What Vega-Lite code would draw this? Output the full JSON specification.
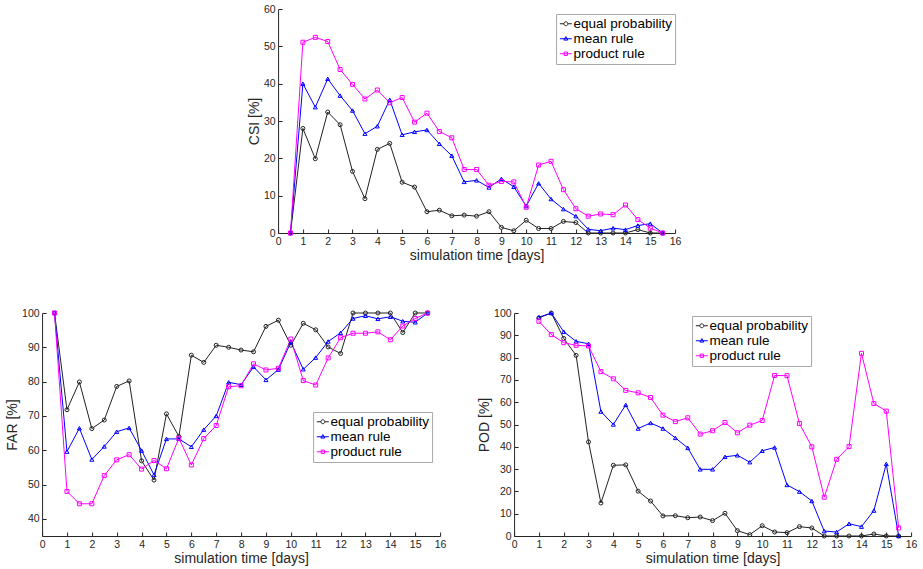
{
  "$schema": "https://vega.github.io/schema/vega-lite/v6.json",
  "padding": {"left": 5, "top": 4, "right": 5, "bottom": 5},
  "background": "white",
  "datasets": {
    "csi": [
      {"t": 0.5, "equal probability": 0, "mean rule": 0, "product rule": 0},
      {"t": 1, "equal probability": 28.0, "mean rule": 40.0, "product rule": 51.1},
      {"t": 1.5, "equal probability": 19.9, "mean rule": 33.7, "product rule": 52.4},
      {"t": 2, "equal probability": 32.4, "mean rule": 41.3, "product rule": 51.3},
      {"t": 2.5, "equal probability": 29.0, "mean rule": 36.8, "product rule": 43.8},
      {"t": 3, "equal probability": 16.5, "mean rule": 32.8, "product rule": 39.8},
      {"t": 3.5, "equal probability": 9.2, "mean rule": 26.6, "product rule": 35.9},
      {"t": 4, "equal probability": 22.4, "mean rule": 28.6, "product rule": 38.3},
      {"t": 4.5, "equal probability": 24.0, "mean rule": 35.7, "product rule": 34.9},
      {"t": 5, "equal probability": 13.6, "mean rule": 26.3, "product rule": 36.3},
      {"t": 5.5, "equal probability": 12.3, "mean rule": 27.1, "product rule": 29.7},
      {"t": 6, "equal probability": 5.7, "mean rule": 27.6, "product rule": 32.1},
      {"t": 6.5, "equal probability": 6.1, "mean rule": 23.9, "product rule": 27.2},
      {"t": 7, "equal probability": 4.6, "mean rule": 20.7, "product rule": 25.5},
      {"t": 7.5, "equal probability": 4.8, "mean rule": 13.7, "product rule": 17.0},
      {"t": 8, "equal probability": 4.5, "mean rule": 14.1, "product rule": 17.0},
      {"t": 8.5, "equal probability": 5.7, "mean rule": 12.2, "product rule": 12.8},
      {"t": 9, "equal probability": 1.5, "mean rule": 14.5, "product rule": 13.8},
      {"t": 9.5, "equal probability": 0.6, "mean rule": 12.4, "product rule": 13.7},
      {"t": 10, "equal probability": 3.4, "mean rule": 7.2, "product rule": 6.9},
      {"t": 10.5, "equal probability": 1.2, "mean rule": 13.3, "product rule": 18.2},
      {"t": 11, "equal probability": 1.2, "mean rule": 9.1, "product rule": 19.2},
      {"t": 11.5, "equal probability": 3.1, "mean rule": 6.4, "product rule": 11.6},
      {"t": 12, "equal probability": 2.8, "mean rule": 4.5, "product rule": 6.5},
      {"t": 12.5, "equal probability": 0, "mean rule": 1.0, "product rule": 4.5},
      {"t": 13, "equal probability": 0, "mean rule": 0.6, "product rule": 5.1},
      {"t": 13.5, "equal probability": 0, "mean rule": 1.3, "product rule": 4.9},
      {"t": 14, "equal probability": 0, "mean rule": 0.9, "product rule": 7.5},
      {"t": 14.5, "equal probability": 0.9, "mean rule": 2.0, "product rule": 3.6},
      {"t": 15, "equal probability": 0, "mean rule": 2.5, "product rule": 1.3},
      {"t": 15.5, "equal probability": 0, "mean rule": 0, "product rule": 0}
    ],
    "far": [
      {"t": 0.5, "equal probability": 100, "mean rule": 100, "product rule": 100},
      {"t": 1, "equal probability": 71.8, "mean rule": 59.6, "product rule": 48.0},
      {"t": 1.5, "equal probability": 79.9, "mean rule": 66.4, "product rule": 44.4},
      {"t": 2, "equal probability": 66.3, "mean rule": 57.3, "product rule": 44.4},
      {"t": 2.5, "equal probability": 68.8, "mean rule": 61.1, "product rule": 52.6},
      {"t": 3, "equal probability": 78.6, "mean rule": 65.4, "product rule": 57.2},
      {"t": 3.5, "equal probability": 80.2, "mean rule": 66.5, "product rule": 58.7},
      {"t": 4, "equal probability": 56.9, "mean rule": 59.9, "product rule": 54.5},
      {"t": 4.5, "equal probability": 51.3, "mean rule": 52.8, "product rule": 57.0},
      {"t": 5, "equal probability": 70.6, "mean rule": 63.3, "product rule": 54.6},
      {"t": 5.5, "equal probability": 64.0, "mean rule": 63.3, "product rule": 63.5},
      {"t": 6, "equal probability": 87.7, "mean rule": 61.0, "product rule": 55.7},
      {"t": 6.5, "equal probability": 85.6, "mean rule": 66.0, "product rule": 63.4},
      {"t": 7, "equal probability": 90.6, "mean rule": 70.0, "product rule": 67.2},
      {"t": 7.5, "equal probability": 90.0, "mean rule": 79.8, "product rule": 78.5},
      {"t": 8, "equal probability": 89.2, "mean rule": 79.1, "product rule": 78.8},
      {"t": 8.5, "equal probability": 88.7, "mean rule": 84.3, "product rule": 85.2},
      {"t": 9, "equal probability": 96.1, "mean rule": 80.5, "product rule": 83.4},
      {"t": 9.5, "equal probability": 97.9, "mean rule": 83.5, "product rule": 83.9},
      {"t": 10, "equal probability": 90.6, "mean rule": 91.5, "product rule": 92.4},
      {"t": 10.5, "equal probability": 97.0, "mean rule": 83.6, "product rule": 80.3},
      {"t": 11, "equal probability": 95.1, "mean rule": 87.0, "product rule": 79.0},
      {"t": 11.5, "equal probability": 90.1, "mean rule": 91.7, "product rule": 86.9},
      {"t": 12, "equal probability": 88.2, "mean rule": 94.2, "product rule": 92.8},
      {"t": 12.5, "equal probability": 100, "mean rule": 98.4, "product rule": 94.1},
      {"t": 13, "equal probability": 100, "mean rule": 99.2, "product rule": 94.1},
      {"t": 13.5, "equal probability": 100, "mean rule": 98.3, "product rule": 94.5},
      {"t": 14, "equal probability": 100, "mean rule": 98.9, "product rule": 92.2},
      {"t": 14.5, "equal probability": 94.3, "mean rule": 97.6, "product rule": 96.2},
      {"t": 15, "equal probability": 100, "mean rule": 97.3, "product rule": 98.4},
      {"t": 15.5, "equal probability": 100, "mean rule": 100, "product rule": 100}
    ],
    "pod": [
      {"t": 1, "equal probability": 97.8, "mean rule": 98.1, "product rule": 96.3},
      {"t": 1.5, "equal probability": 100, "mean rule": 100, "product rule": 90.3},
      {"t": 2, "equal probability": 88.6, "mean rule": 91.6, "product rule": 86.7},
      {"t": 2.5, "equal probability": 81.0, "mean rule": 87.3, "product rule": 85.5},
      {"t": 3, "equal probability": 42.2, "mean rule": 86.2, "product rule": 85.2},
      {"t": 3.5, "equal probability": 14.8, "mean rule": 55.8, "product rule": 73.7},
      {"t": 4, "equal probability": 31.7, "mean rule": 50.0, "product rule": 70.5},
      {"t": 4.5, "equal probability": 31.9, "mean rule": 58.8, "product rule": 65.3},
      {"t": 5, "equal probability": 20.1, "mean rule": 48.2, "product rule": 64.2},
      {"t": 5.5, "equal probability": 15.7, "mean rule": 50.7, "product rule": 62.1},
      {"t": 6, "equal probability": 9.0, "mean rule": 48.2, "product rule": 54.2},
      {"t": 6.5, "equal probability": 9.1, "mean rule": 44.0, "product rule": 51.3},
      {"t": 7, "equal probability": 8.2, "mean rule": 39.5, "product rule": 53.0},
      {"t": 7.5, "equal probability": 8.5, "mean rule": 29.9, "product rule": 45.7},
      {"t": 8, "equal probability": 6.9, "mean rule": 29.9, "product rule": 47.2},
      {"t": 8.5, "equal probability": 10.2, "mean rule": 35.5, "product rule": 50.9},
      {"t": 9, "equal probability": 2.4, "mean rule": 36.2, "product rule": 46.3},
      {"t": 9.5, "equal probability": 0.6, "mean rule": 33.1, "product rule": 49.7},
      {"t": 10, "equal probability": 4.6, "mean rule": 38.2, "product rule": 51.8},
      {"t": 10.5, "equal probability": 1.8, "mean rule": 39.7, "product rule": 72.0},
      {"t": 11, "equal probability": 1.5, "mean rule": 22.9, "product rule": 71.9},
      {"t": 11.5, "equal probability": 4.2, "mean rule": 19.9, "product rule": 50.4},
      {"t": 12, "equal probability": 3.6, "mean rule": 15.7, "product rule": 40.0},
      {"t": 12.5, "equal probability": 0, "mean rule": 2.2, "product rule": 17.4},
      {"t": 13, "equal probability": 0, "mean rule": 1.8, "product rule": 34.4},
      {"t": 13.5, "equal probability": 0, "mean rule": 5.5, "product rule": 40.1},
      {"t": 14, "equal probability": 0, "mean rule": 4.2, "product rule": 81.9},
      {"t": 14.5, "equal probability": 0.9, "mean rule": 11.4, "product rule": 59.4},
      {"t": 15, "equal probability": 0, "mean rule": 32.3, "product rule": 56.0},
      {"t": 15.5, "equal probability": 0, "mean rule": 0, "product rule": 3.6}
    ]
  },
  "spacing": 45,
  "center": true,
  "vconcat": [
    {
      "width": 397, "height": 224,
      "data": {"name": "csi"},
      "transform": [{"fold": ["equal probability", "mean rule", "product rule"], "as": ["series", "value"]}],
      "encoding": {
        "x": {"field": "t", "type": "quantitative", "scale": {"domain": [0, 16], "nice": false}, "axis": {"title": "simulation time [days]", "values": [0,1,2,3,4,5,6,7,8,9,10,11,12,13,14,15,16]}},
        "y": {"field": "value", "type": "quantitative", "scale": {"domain": [0, 60], "nice": false}, "axis": {"title": "CSI [%]", "values": [0,10,20,30,40,50,60]}}
      },
      "layer": [
        {"mark": {"type": "line", "strokeWidth": 1},
         "encoding": {"color": {"field": "series", "type": "nominal", "scale": {"domain": ["equal probability", "mean rule", "product rule"], "range": ["#222222", "#0000ff", "#ff00ff"]}, "legend": null}}},
        {"mark": {"type": "point", "filled": false, "size": 16, "strokeWidth": 1, "opacity": 1},
         "encoding": {"color": {"field": "series", "type": "nominal", "scale": {"domain": ["equal probability", "mean rule", "product rule"], "range": ["#222222", "#0000ff", "#ff00ff"]}, "legend": null},
           "shape": {"field": "series", "type": "nominal", "scale": {"domain": ["equal probability", "mean rule", "product rule"], "range": ["circle", "triangle-up", "square"]}, "legend": null}}},
        {"mark": {"type": "point", "filled": false, "strokeWidth": 1, "opacity": 0},
         "encoding": {"color": {"field": "series", "type": "nominal", "scale": {"domain": ["equal probability", "mean rule", "product rule"], "range": ["#222222", "#0000ff", "#ff00ff"]}, "legend": {"orient": "none", "legendX": 278, "legendY": 5}},
           "shape": {"field": "series", "type": "nominal", "scale": {"domain": ["equal probability", "mean rule", "product rule"], "range": ["M-1,0H-0.33M0.33,0H1M-0.33,0A0.33,0.33,0,1,0,0.33,0A0.33,0.33,0,1,0,-0.33,0", "M-1,0H1M0,-0.36L0.33,0.22L-0.33,0.22Z", "M-1,0H1M-0.28,-0.28H0.28V0.28H-0.28Z"]}, "legend": {"orient": "none", "legendX": 278, "legendY": 5}}}}
      ],
      "resolve": {"scale": {"shape": "independent", "color": "independent"}}
    },
    {
      "hconcat": [
        {
          "width": 398, "height": 223,
          "data": {"name": "far"},
          "transform": [{"fold": ["equal probability", "mean rule", "product rule"], "as": ["series", "value"]}],
          "encoding": {
            "x": {"field": "t", "type": "quantitative", "scale": {"domain": [0, 16], "nice": false}, "axis": {"title": "simulation time [days]", "values": [0,1,2,3,4,5,6,7,8,9,10,11,12,13,14,15,16]}},
            "y": {"field": "value", "type": "quantitative", "scale": {"domain": [35, 100], "nice": false, "zero": false}, "axis": {"title": "FAR [%]", "values": [40,50,60,70,80,90,100]}}
          },
          "layer": [
            {"mark": {"type": "line", "strokeWidth": 1},
             "encoding": {"color": {"field": "series", "type": "nominal", "scale": {"domain": ["equal probability", "mean rule", "product rule"], "range": ["#222222", "#0000ff", "#ff00ff"]}, "legend": null}}},
            {"mark": {"type": "point", "filled": false, "size": 16, "strokeWidth": 1, "opacity": 1},
             "encoding": {"color": {"field": "series", "type": "nominal", "scale": {"domain": ["equal probability", "mean rule", "product rule"], "range": ["#222222", "#0000ff", "#ff00ff"]}, "legend": null},
               "shape": {"field": "series", "type": "nominal", "scale": {"domain": ["equal probability", "mean rule", "product rule"], "range": ["circle", "triangle-up", "square"]}, "legend": null}}},
            {"mark": {"type": "point", "filled": false, "strokeWidth": 1, "opacity": 0},
             "encoding": {"color": {"field": "series", "type": "nominal", "scale": {"domain": ["equal probability", "mean rule", "product rule"], "range": ["#222222", "#0000ff", "#ff00ff"]}, "legend": {"orient": "none", "legendX": 271, "legendY": 99}},
               "shape": {"field": "series", "type": "nominal", "scale": {"domain": ["equal probability", "mean rule", "product rule"], "range": ["M-1,0H-0.33M0.33,0H1M-0.33,0A0.33,0.33,0,1,0,0.33,0A0.33,0.33,0,1,0,-0.33,0", "M-1,0H1M0,-0.36L0.33,0.22L-0.33,0.22Z", "M-1,0H1M-0.28,-0.28H0.28V0.28H-0.28Z"]}, "legend": {"orient": "none", "legendX": 271, "legendY": 99}}}}
          ],
          "resolve": {"scale": {"shape": "independent", "color": "independent"}}
        },
        {
          "width": 397, "height": 223,
          "data": {"name": "pod"},
          "transform": [{"fold": ["equal probability", "mean rule", "product rule"], "as": ["series", "value"]}],
          "encoding": {
            "x": {"field": "t", "type": "quantitative", "scale": {"domain": [0, 16], "nice": false}, "axis": {"title": "simulation time [days]", "values": [0,1,2,3,4,5,6,7,8,9,10,11,12,13,14,15,16]}},
            "y": {"field": "value", "type": "quantitative", "scale": {"domain": [0, 100], "nice": false}, "axis": {"title": "POD [%]", "values": [0,10,20,30,40,50,60,70,80,90,100]}}
          },
          "layer": [
            {"mark": {"type": "line", "strokeWidth": 1},
             "encoding": {"color": {"field": "series", "type": "nominal", "scale": {"domain": ["equal probability", "mean rule", "product rule"], "range": ["#222222", "#0000ff", "#ff00ff"]}, "legend": null}}},
            {"mark": {"type": "point", "filled": false, "size": 16, "strokeWidth": 1, "opacity": 1},
             "encoding": {"color": {"field": "series", "type": "nominal", "scale": {"domain": ["equal probability", "mean rule", "product rule"], "range": ["#222222", "#0000ff", "#ff00ff"]}, "legend": null},
               "shape": {"field": "series", "type": "nominal", "scale": {"domain": ["equal probability", "mean rule", "product rule"], "range": ["circle", "triangle-up", "square"]}, "legend": null}}},
            {"mark": {"type": "point", "filled": false, "strokeWidth": 1, "opacity": 0},
             "encoding": {"color": {"field": "series", "type": "nominal", "scale": {"domain": ["equal probability", "mean rule", "product rule"], "range": ["#222222", "#0000ff", "#ff00ff"]}, "legend": {"orient": "none", "legendX": 178, "legendY": 3}},
               "shape": {"field": "series", "type": "nominal", "scale": {"domain": ["equal probability", "mean rule", "product rule"], "range": ["M-1,0H-0.33M0.33,0H1M-0.33,0A0.33,0.33,0,1,0,0.33,0A0.33,0.33,0,1,0,-0.33,0", "M-1,0H1M0,-0.36L0.33,0.22L-0.33,0.22Z", "M-1,0H1M-0.28,-0.28H0.28V0.28H-0.28Z"]}, "legend": {"orient": "none", "legendX": 178, "legendY": 3}}}}
          ],
          "resolve": {"scale": {"shape": "independent", "color": "independent"}}
        }
      ],
      "spacing": 31,
      "resolve": {"scale": {"y": "independent", "color": "independent", "shape": "independent"}, "legend": {"color": "independent", "shape": "independent"}}
    }
  ],
  "resolve": {"scale": {"y": "independent", "color": "independent", "shape": "independent"}, "legend": {"color": "independent", "shape": "independent"}},
  "config": {
    "font": "Liberation Sans",
    "view": {"stroke": null},
    "axis": {
      "grid": false,
      "domainColor": "#262626",
      "tickColor": "#262626",
      "labelColor": "#262626",
      "titleColor": "#262626",
      "labelFont": "Liberation Sans",
      "titleFont": "Liberation Sans",
      "labelFontSize": 10.5,
      "titleFontSize": 14,
      "titleFontWeight": "normal",
      "tickSize": -4,
      "labelPadding": 7,
      "domainWidth": 1,
      "tickWidth": 1
    },
    "axisX": {"titlePadding": 2, "labelFlush": false},
    "axisY": {"titlePadding": 2, "labelFlush": false},
    "legend": {
      "title": null,
      "labelFont": "Liberation Sans",
      "labelFontSize": 13.5,
      "labelColor": "#000000",
      "strokeColor": "#a8a8a8",
      "fillColor": "#ffffff",
      "padding": 3,
      "rowPadding": 0,
      "labelOffset": 1,
      "symbolSize": 144,
      "symbolStrokeWidth": 1,
      "symbolOpacity": 1
    }
  }
}
